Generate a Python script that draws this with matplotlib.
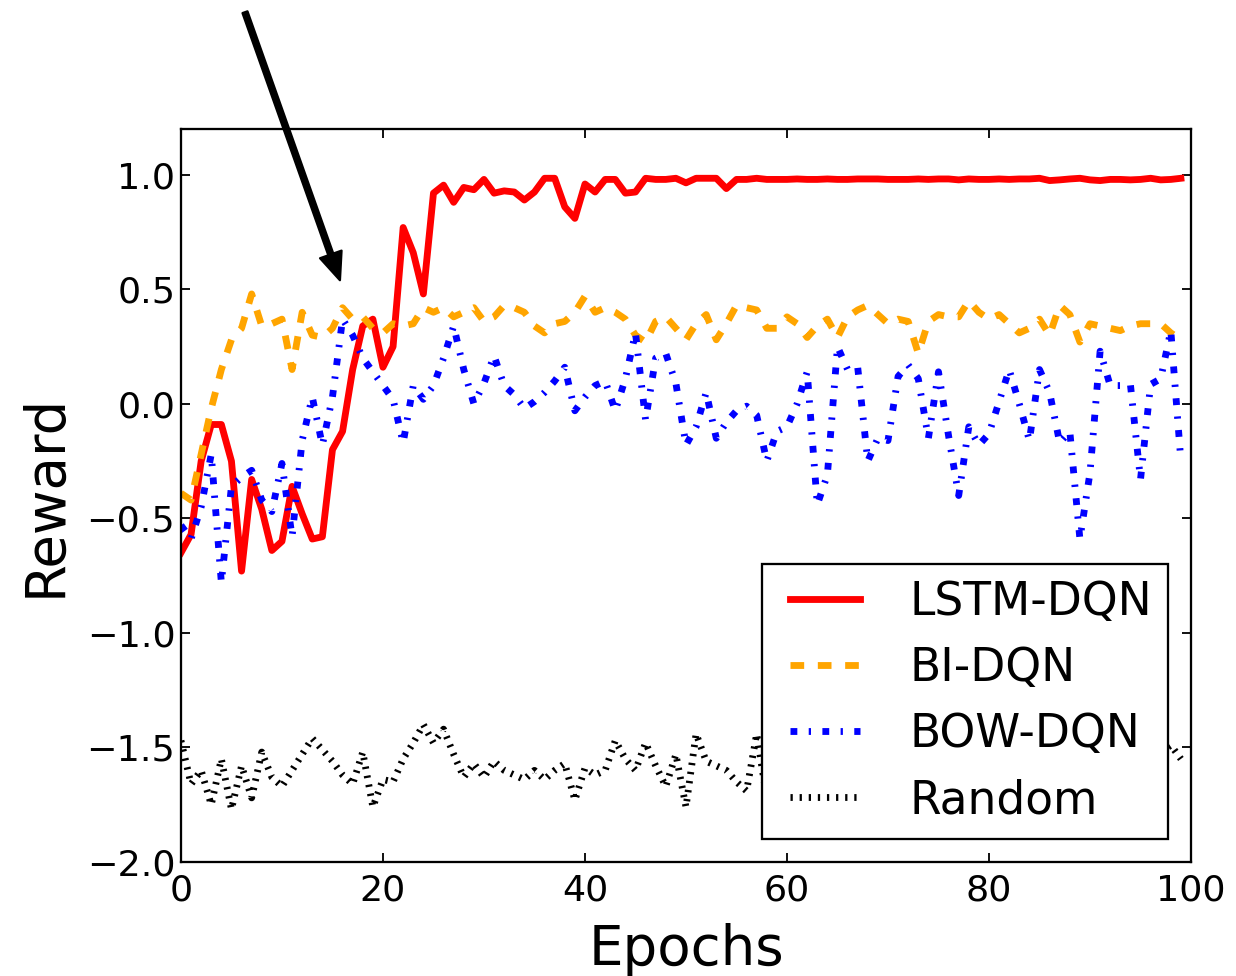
import numpy as np
import matplotlib
matplotlib.use("Agg")
import matplotlib.pyplot as plt
from matplotlib.legend_handler import HandlerLine2D

# reward per epoch
lstm_dqn = [-0.65, -0.57, -0.25, -0.09, -0.09, -0.25, -0.73, -0.33, -0.46, -0.64,
            -0.60, -0.36, -0.48, -0.59, -0.58, -0.20, -0.12, 0.15, 0.34, 0.37,
            0.16, 0.25, 0.77, 0.66, 0.48, 0.92, 0.955, 0.88, 0.945, 0.935,
            0.98, 0.92, 0.93, 0.925, 0.89, 0.925, 0.985, 0.985, 0.86, 0.81,
            0.96, 0.925, 0.98, 0.98, 0.92, 0.925, 0.985, 0.98, 0.98, 0.985,
            0.965, 0.985, 0.985, 0.985, 0.94, 0.98, 0.98, 0.985, 0.98, 0.98,
            0.98, 0.982, 0.98, 0.98, 0.982, 0.98, 0.98, 0.982, 0.982, 0.982,
            0.98, 0.98, 0.98, 0.982, 0.98, 0.982, 0.982, 0.978, 0.982, 0.98,
            0.98, 0.982, 0.98, 0.982, 0.982, 0.985, 0.975, 0.978, 0.982, 0.985,
            0.978, 0.975, 0.98, 0.98, 0.978, 0.98, 0.985, 0.978, 0.98, 0.985]

bi_dqn = [-0.39, -0.42, -0.22, -0.02, 0.15, 0.28, 0.33, 0.48, 0.34, 0.35,
          0.37, 0.15, 0.40, 0.30, 0.29, 0.33, 0.42, 0.37, 0.38, 0.33,
          0.31, 0.35, 0.34, 0.35, 0.42, 0.40, 0.42, 0.38, 0.40, 0.42,
          0.36, 0.38, 0.43, 0.42, 0.40, 0.34, 0.31, 0.35, 0.36, 0.40,
          0.47, 0.40, 0.42, 0.40, 0.37, 0.30, 0.27, 0.36, 0.38, 0.33,
          0.28, 0.35, 0.39, 0.28, 0.35, 0.43, 0.42, 0.41, 0.33, 0.33,
          0.38, 0.35, 0.29, 0.34, 0.37, 0.29, 0.38, 0.41, 0.43, 0.39,
          0.35, 0.37, 0.36, 0.22, 0.36, 0.39, 0.38, 0.38, 0.45, 0.40,
          0.37, 0.39, 0.35, 0.31, 0.33, 0.37, 0.30, 0.43, 0.39, 0.27,
          0.35, 0.34, 0.33, 0.32, 0.34, 0.35, 0.35, 0.35, 0.31, 0.28]

bow_dqn = [-0.53, -0.59, -0.45, -0.22, -0.78, -0.36, -0.32, -0.29, -0.42, -0.47,
           -0.26, -0.58, -0.16, 0.03, -0.18, 0.03, 0.37, 0.30, 0.20, 0.14,
           0.08, 0.02, -0.17, 0.08, 0.02, 0.08, 0.20, 0.34, 0.15, 0.00,
           0.09, 0.21, 0.08, 0.04, -0.02, 0.01, 0.05, 0.10, 0.16, -0.03,
           0.03, 0.08, 0.10, -0.03, 0.11, 0.31, -0.07, 0.20, 0.22, 0.09,
           -0.18, -0.10, 0.05, -0.15, -0.08, -0.03, -0.01, -0.05, -0.25, -0.12,
           -0.10, 0.00, 0.14, -0.44, -0.31, 0.25, 0.15, 0.16, -0.25, -0.15,
           -0.16, 0.12, 0.17, 0.11, -0.15, 0.14, -0.14, -0.40, -0.10, -0.18,
           -0.13, 0.01, 0.15, 0.00, -0.16, 0.15, 0.05, -0.17, -0.12, -0.59,
           -0.30, 0.23, 0.08, 0.08, 0.085, -0.33, 0.085, 0.11, 0.32, -0.25]

random_agent = [-1.47, -1.66, -1.60, -1.75, -1.55, -1.77, -1.58, -1.72, -1.52, -1.63,
                -1.67, -1.60, -1.53, -1.46, -1.51, -1.56, -1.62, -1.66, -1.52, -1.76,
                -1.64, -1.65, -1.55, -1.48, -1.40, -1.48, -1.42, -1.53, -1.63, -1.57,
                -1.63, -1.56, -1.60, -1.62, -1.64, -1.60, -1.64, -1.60, -1.57, -1.73,
                -1.59, -1.62, -1.60, -1.47, -1.55, -1.60, -1.48, -1.58, -1.67, -1.53,
                -1.76, -1.44, -1.56, -1.58, -1.60, -1.65, -1.69, -1.44, -1.72, -1.58,
                -1.62, -1.55, -1.66, -1.50, -1.60, -1.57, -1.70, -1.52, -1.61, -1.58,
                -1.64, -1.49, -1.62, -1.56, -1.68, -1.54, -1.60, -1.47, -1.63, -1.59,
                -1.55, -1.66, -1.51, -1.60, -1.73, -1.57, -1.62, -1.48, -1.64, -1.58,
                -1.60, -1.67, -1.53, -1.61, -1.56, -1.70, -1.58, -1.52, -1.49, -1.55]

epochs = np.arange(len(lstm_dqn))
labels = ["LSTM-DQN", "BI-DQN", "BOW-DQN", "Random"]

plt.rcParams['lines.scale_dashes'] = False
plt.rcParams['font.family'] = 'DejaVu Sans'

DPI = 164
fig = plt.figure(figsize=(1236 / DPI, 976 / DPI), dpi=DPI, facecolor='white')
ax = fig.add_axes([0.1464, 0.1168, 0.8172, 0.7510])

l1, = ax.plot(epochs, lstm_dqn, color='red', lw=3, linestyle='-', label=labels[0])
l2, = ax.plot(epochs, bi_dqn, color='orange', lw=3, linestyle=(0, (6, 6)), label=labels[1])
l3, = ax.plot(epochs, bow_dqn, color='blue', lw=3, linestyle=(0, (3, 5, 1, 5)), label=labels[2])
l4, = ax.plot(epochs, random_agent, color='black', lw=3, linestyle=(0, (1, 3)), label=labels[3])

ax.set_xlim(0, 100)
ax.set_ylim(-2.0, 1.2)
ax.set_xticks([0, 20, 40, 60, 80, 100])
ax.set_yticks([-2.0, -1.5, -1.0, -0.5, 0.0, 0.5, 1.0])
ax.set_yticklabels(["\u22122.0", "\u22121.5", "\u22121.0", "\u22120.5", "0.0", "0.5", "1.0"])
ax.tick_params(direction='in', top=True, right=True, length=4, width=0.8,
               labelsize=16)
ax.tick_params(axis='x', pad=5)
ax.tick_params(axis='y', pad=2.5)
for s in ax.spines.values():
    s.set_linewidth(1.0)

ax.set_xlabel("Epochs", fontsize=24, labelpad=7)
ax.set_ylabel("Reward", fontsize=24, labelpad=6)

hm = {l: HandlerLine2D(xpad=0.27) for l in (l1, l2, l3, l4)}
leg = ax.legend(loc='lower right', fontsize=20, handlelength=1.8,
                handletextpad=1.1, borderaxespad=0.5, labelspacing=0.46,
                fancybox=False, framealpha=1, edgecolor='black', borderpad=0.35,
                handler_map=hm)
leg.get_frame().set_linewidth(1.0)

ax.annotate('', xy=(15.74, 0.54), xytext=(6.34, 1.71),
            arrowprops=dict(facecolor='black', edgecolor='black', width=2.3,
                            headwidth=10, headlength=12, shrink=0),
            annotation_clip=False)

fig.savefig("out.png", dpi=DPI, facecolor='white')
